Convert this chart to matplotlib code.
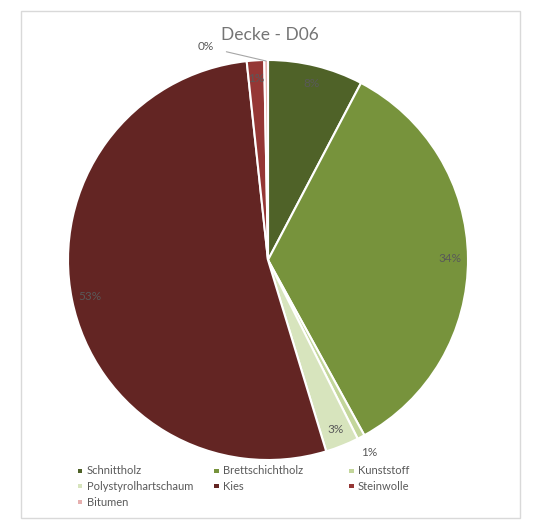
import matplotlib
matplotlib.use("Agg")
import matplotlib.pyplot as plt
from matplotlib.patches import Rectangle
import numpy as np

plt.rcParams['font.family'] = ['Lato', 'DejaVu Sans']

categories = ["Schnittholz", "Brettschichtholz", "Kunststoff", "Polystyrolhartschaum",
              "Kies", "Steinwolle", "Bitumen"]
shares = [7.7, 34.3, 0.6, 2.7, 53.0, 1.4, 0.3]
colors = ["#4F6228", "#77933C", "#C3D69B", "#D7E4BD", "#632523", "#953735", "#E6B0AF"]
title = "Decke - D06"

W, H = 540, 528
fig = plt.figure(figsize=(W / 100, H / 100), dpi=100)

# chart frame
fig.patches.append(Rectangle((21 / W, 1 - 518 / H), (520 - 21) / W, (518 - 11) / H,
                             transform=fig.transFigure, fill=False,
                             edgecolor="#D9D9D9", linewidth=1.0))

cx, cy, r = 268, 260, 200
ax = fig.add_axes([(cx - r) / W, 1 - (cy + r) / H, 2 * r / W, 2 * r / H])
wedges, _ = ax.pie(shares, colors=colors, startangle=90, counterclock=False,
                   wedgeprops=dict(edgecolor="white", linewidth=1.5))
ax.set_xlim(-1, 1)
ax.set_ylim(-1, 1)
ax.set_aspect("equal")
ax.axis("off")

label_color = "#595959"
total = sum(shares)
cum = 0.0
for i, v in enumerate(shares):
    mid = (cum + v / 2) / total * 360.0
    cum += v
    theta = np.deg2rad(90 - mid)
    txt = f"{round(v)}%"
    if categories[i] == "Kunststoff":
        d = 1.09
        ax.text(d * np.cos(theta), d * np.sin(theta), txt, ha="center", va="center",
                fontsize=8.5, color=label_color)
    elif categories[i] == "Bitumen":
        ax.annotate(txt, xy=(0.995 * np.cos(theta), 0.995 * np.sin(theta)),
                    xytext=(-0.31, 1.065), ha="center", va="center",
                    fontsize=8.5, color=label_color,
                    arrowprops=dict(arrowstyle="-", color="#A6A6A6", lw=0.8,
                                    shrinkA=7, shrinkB=0))
    else:
        d = 0.91
        ax.text(d * np.cos(theta), d * np.sin(theta), txt, ha="center", va="center",
                fontsize=8.5, color=label_color)

fig.text(270 / W, 1 - 35 / H, title, ha="center", va="center",
         fontsize=12.5, color="#757575")

# legend: three columns, filled row by row
col_x = [80, 216, 351]
row_y = [471, 486, 502]
for i, name in enumerate(categories):
    row, col = divmod(i, 3)
    mx, my = col_x[col], row_y[row]
    fig.patches.append(Rectangle(((mx - 2) / W, 1 - (my + 2) / H), 4.5 / W, 4.5 / H,
                                 transform=fig.transFigure, facecolor=colors[i],
                                 edgecolor="none"))
    fig.text((mx + 7) / W, 1 - my / H, name, ha="left", va="center",
             fontsize=8, color=label_color)

fig.savefig("out.png", dpi=100, facecolor="white")
